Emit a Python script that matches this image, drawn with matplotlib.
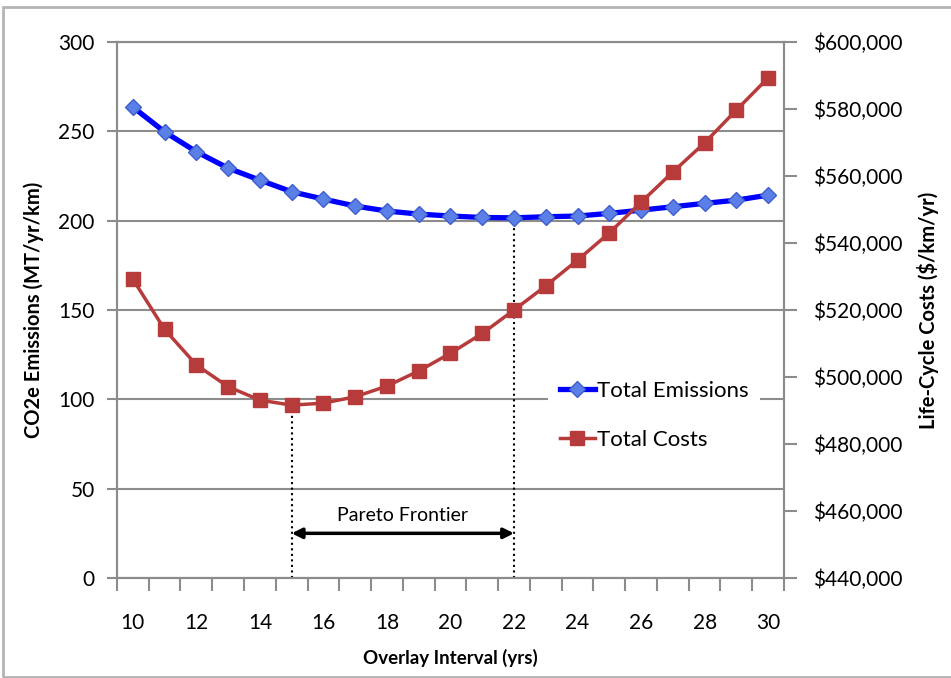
import matplotlib.pyplot as plt
import numpy as np
from matplotlib.patches import Rectangle

plt.rcParams['font.family'] = ['Lato', 'DejaVu Sans']

# overlay interval (years) and the two objectives
years = list(range(10, 31))
emissions = [263.6, 249.7, 238.6, 229.4, 222.7, 216.2, 212.1, 208.2, 205.4, 203.7, 202.6,
             201.8, 201.6, 202.2, 202.6, 204.1, 205.9, 207.8, 209.7, 211.5, 214.3]
costs = [529200, 514200, 503600, 497100, 493100, 491600, 492200, 494100, 497300, 501800, 507100,
         513000, 520000, 527200, 534900, 543000, 552200, 561200, 569900, 579700, 589300]
year_ticks = list(range(10, 31, 2))
pareto_lo = 15   # min cost
pareto_hi = 22   # min emissions

grey = '#8c8c8c'
blue = '#0000ff'
red = '#b83b3b'

fig = plt.figure(figsize=(9.51, 6.78), dpi=100)
ax = fig.add_axes([0.123, 0.1475, 0.7014, 0.7905])
ax2 = ax.twinx()

# emissions on the left axis
l1, = ax.plot(years, emissions, color=blue, lw=3.8, marker='D', ms=8,
              mfc='#5a7fe6', mec='#3f5fcf', mew=1, label='Total Emissions', zorder=3)
ax.set_ylim(0, 300)
ax.set_yticks(range(0, 301, 50))
ax.yaxis.grid(True, color=grey, lw=1.5)
ax.set_axisbelow(True)

# costs on the right axis
l2, = ax2.plot(years, costs, color=red, lw=2.5, marker='s', ms=10,
               mfc=red, mec=red, label='Total Costs', zorder=3)
ax2.set_ylim(440000, 600000)
ax2.set_yticks(range(440000, 600001, 20000))
ax2.set_yticklabels(['${:,}'.format(v) for v in range(440000, 600001, 20000)])

# category style x axis: labels on every 2nd year, ticks between years
ax.set_xlim(years[0] - 0.5, years[-1] + 0.5)
ax.set_xticks(year_ticks)
ax.set_xticks([y - 0.5 for y in years] + [years[-1] + 0.5], minor=True)
ax.tick_params(axis='x', which='major', length=0, labelsize=15, pad=25)
ax.tick_params(axis='x', which='minor', length=9, width=1.5, color=grey)
ax.tick_params(axis='y', length=7, width=1.5, color=grey, labelsize=15, pad=9)
ax2.tick_params(axis='y', length=9, width=1.5, color=grey, labelsize=15, pad=12)

for a in (ax, ax2):
    for s in a.spines.values():
        s.set_color(grey)
        s.set_linewidth(1.5)

ax.set_xlabel('Overlay Interval (yrs)', fontsize=13.5, fontweight='bold', labelpad=12)
ax.set_ylabel('CO2e Emissions (MT/yr/km)', fontsize=14.5, fontweight='bold', labelpad=10)
ax2.set_ylabel('Life-Cycle Costs ($/km/yr)', fontsize=14.5, fontweight='bold', labelpad=10)

# pareto frontier markers
i_lo = years.index(pareto_lo)
i_hi = years.index(pareto_hi)
ax2.plot([pareto_lo, pareto_lo], [440000, costs[i_lo]], color='black', lw=1.5, ls=':', zorder=2)
ax.plot([pareto_hi, pareto_hi], [0, emissions[i_hi]], color='black', lw=1.5, ls=':', zorder=2)
ax.annotate('', xy=(pareto_lo, 25), xytext=(pareto_hi, 25),
            arrowprops=dict(arrowstyle='<|-|>', color='black', lw=2.5, mutation_scale=15,
                            shrinkA=0, shrinkB=0))
ax.text((pareto_lo + pareto_hi) / 2, 35, 'Pareto Frontier', ha='center', va='center', fontsize=14)

fig.legend(handles=[l1, l2], loc='center left', bbox_to_anchor=(0.565, 0.387),
           fontsize=16, frameon=True, facecolor='white', edgecolor='none', framealpha=1,
           handlelength=1.6, handletextpad=0.1, labelspacing=1.3, borderpad=0.5, fancybox=False)

fig.add_artist(Rectangle((0.003, 0.0015), 1.0, 0.988, transform=fig.transFigure,
                         fill=False, edgecolor='#b4b4b4', lw=2))

fig.savefig('out.png', dpi=100)
